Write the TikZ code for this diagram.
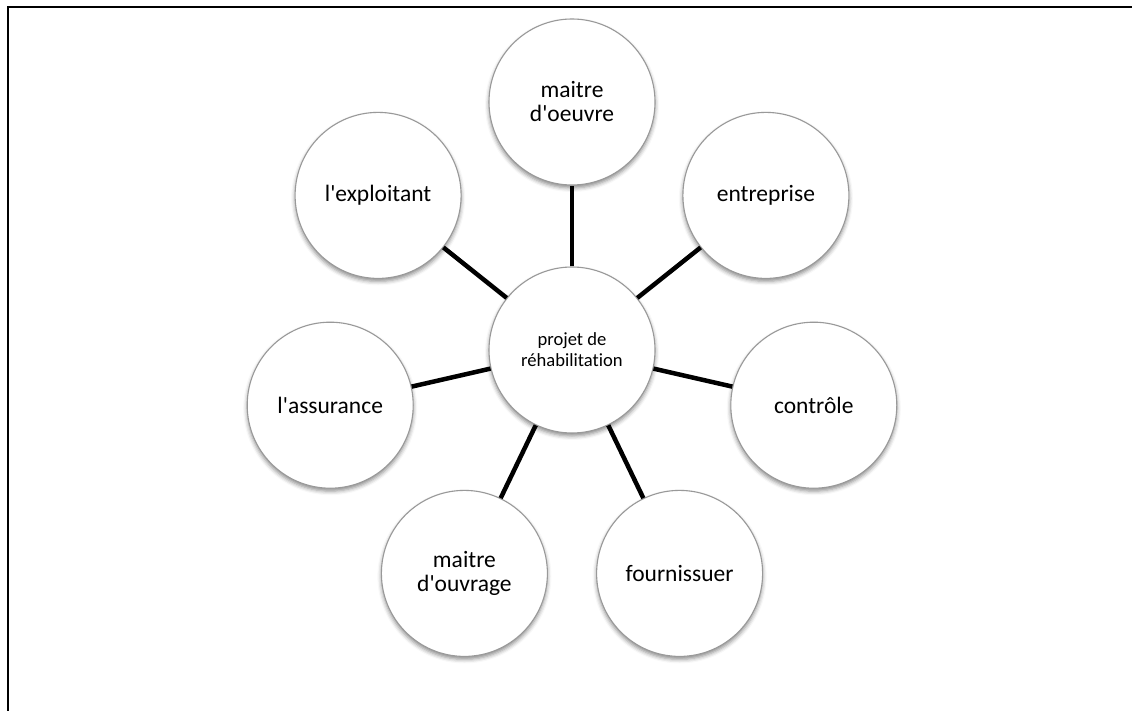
\documentclass[tikz,border=0pt]{standalone}
\usepackage{fontspec}
\setmainfont{Carlito}[Ligatures={NoCommon}]
\usetikzlibrary{shadows.blur}
\tikzset{
  bubble/.style={circle, draw=black!40, line width=1.1pt, fill=white,
    minimum size=166pt, inner sep=0pt, align=center,
    font=\fontsize{23.5}{24}\selectfont,
    blur shadow={shadow xshift=0pt, shadow yshift=-3pt, shadow blur radius=4pt, shadow opacity=45}},
  hub/.style={bubble, font=\fontsize{18.6}{21}\selectfont},
  conn/.style={line width=4.5pt, black},
  frame/.style={line width=2pt, black}
}
\begin{document}
\begin{tikzpicture}[x=1pt,y=1pt]
\useasboundingbox (0,-711) rectangle (1132,0);
\coordinate (ftl) at (7.5,-7);
\coordinate (ftr) at (1132,-7);
\coordinate (fbl) at (7.5,-711);
\draw[frame] (ftr) -- (ftl) -- (fbl);
\node[hub] (c) at (572,-350) {projet de\\réhabilitation};
\node[bubble] (n1) at (572,-102) {maitre\\d\textquotesingle oeuvre};
\node[bubble] (n2) at (765.9,-195.4) {entreprise};
\node[bubble] (n3) at (813.8,-405.2) {contrôle};
\node[bubble] (n4) at (679.6,-573.4) {fournissuer};
\node[bubble] (n5) at (464.4,-573.4) {maitre\\d\textquotesingle ouvrage};
\node[bubble] (n6) at (330.2,-405.2) {l\textquotesingle assurance};
\node[bubble] (n7) at (378.1,-195.4) {l\textquotesingle exploitant};
\foreach \n in {n1,n2,n3,n4,n5,n6,n7} \draw[conn] (c) -- (\n);
\end{tikzpicture}
\end{document}
